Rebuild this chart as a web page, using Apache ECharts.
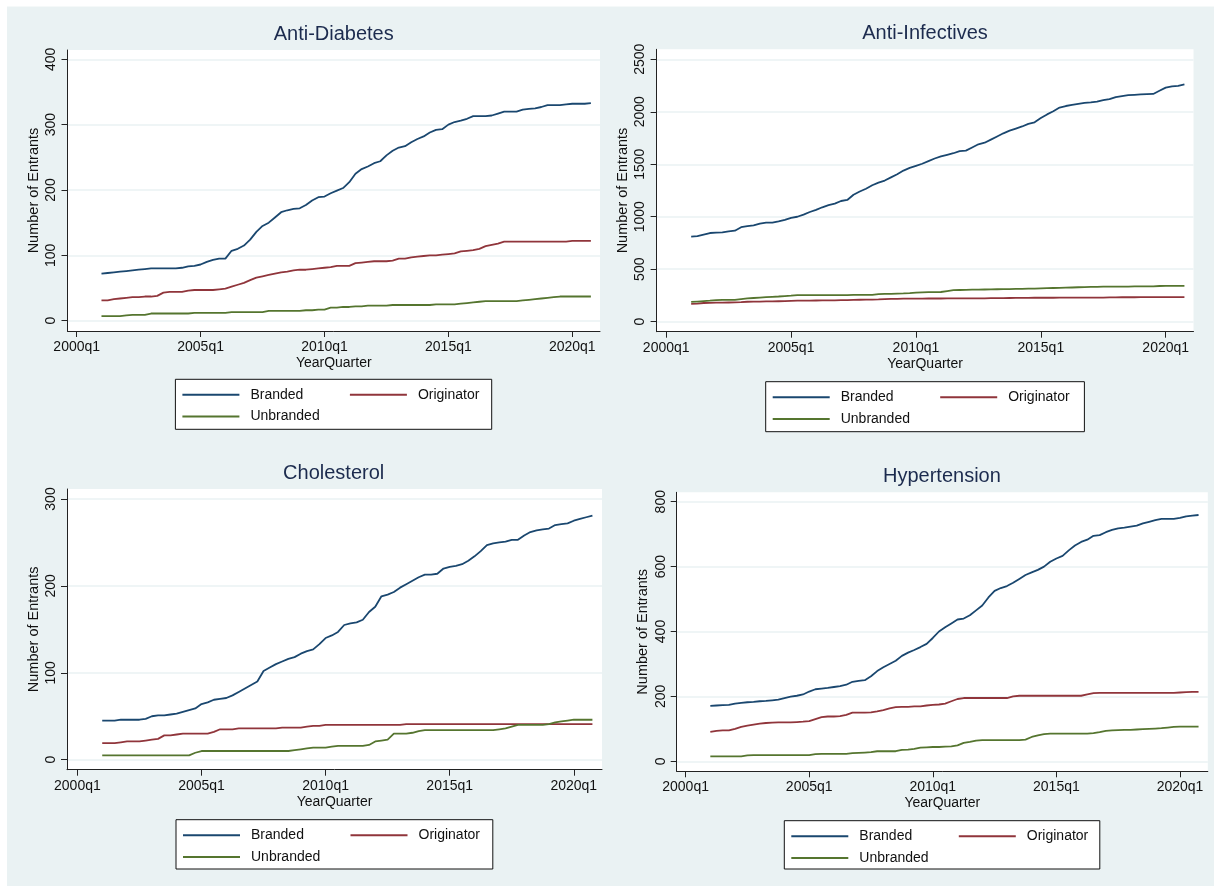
<!DOCTYPE html>
<html>
<head>
<meta charset="utf-8">
<title>Number of Entrants by therapeutic class</title>
<script src="https://cdn.jsdelivr.net/npm/echarts@6/dist/echarts.min.js"></script>
<style>
  html, body { margin: 0; padding: 0; background: #fff; }
  #main { width: 1214px; height: 886px; }
</style>
</head>
<body>
<div id="main"></div>
<script>
// ---- data ----
var panelTitles = ['Anti-Diabetes', 'Anti-Infectives', 'Cholesterol', 'Hypertension'];
var seriesNames = ['Branded', 'Originator', 'Unbranded'];
var xTickValues = [0, 20, 40, 60, 80];            // quarters since 2000q1
var firstQuarter = 4;                              // series start at 2001q1
var yTickValues = [
  [0, 100, 200, 300, 400],
  [0, 500, 1000, 1500, 2000, 2500],
  [0, 100, 200, 300],
  [0, 200, 400, 600, 800]
];

// Anti-Diabetes
var adBranded = [72,73,74,75,76,77,78,79,80,80, 80,80,80,81,83,84,86,90,93,95,
  95,107,110,115,124,136,145,150,158,166, 169,171,172,177,184,189,190,195,199,203,
  212,225,232,236,241,244,253,260,265,267, 273,278,282,288,292,293,300,304,306,309,
  313,313,313,314,317,320,320,320,323,324, 325,327,330,330,330,331,332,332,332,333];
var adOriginator = [31,31,33,34,35,36,36,37,37,38, 43,44,44,44,46,47,47,47,47,48,
  49,52,55,58,62,66,68,70,72,74, 75,77,78,78,79,80,81,82,84,84,
  84,88,89,90,91,91,91,92,95,95, 97,98,99,100,100,101,102,103,106,107,
  108,110,114,116,118,121,121,121,121,121, 121,121,121,121,121,121,122,122,122,122];
var adUnbranded = [7,7,7,7,8,9,9,9,11,11, 11,11,11,11,11,12,12,12,12,12,
  12,13,13,13,13,13,13,15,15,15, 15,15,15,16,16,17,17,20,20,21,
  21,22,22,23,23,23,23,24,24,24, 24,24,24,24,25,25,25,25,26,27,
  28,29,30,30,30,30,30,30,31,32, 33,34,35,36,37,37,37,37,37,37];

// Anti-Infectives
var aiBranded = [810,815,830,845,848,851,860,867,900,910, 918,935,943,943,955,970,990,1000,1020,1045,
  1065,1090,1110,1125,1150,1160,1210,1240,1267,1300, 1325,1345,1375,1405,1440,1465,1485,1505,1530,1555,
  1575,1590,1605,1625,1630,1660,1690,1705,1735,1765, 1795,1820,1840,1860,1885,1900,1940,1975,2005,2040,
  2055,2065,2075,2085,2090,2097,2110,2120,2140,2150, 2158,2162,2166,2168,2170,2200,2230,2242,2246,2260];
var aiOriginator = [170,172,178,180,181,182,183,184,186,190, 191,192,193,194,195,196,198,200,200,201,
  202,203,204,204,205,206,208,209,210,211, 212,216,218,218,219,219,220,220,221,221,
  221,222,222,222,222,223,223,223,224,224, 224,226,227,227,227,228,228,228,228,229,
  229,229,229,229,230,230,230,231,231,233, 233,233,234,234,234,234,235,235,235,235];
var aiUnbranded = [188,192,196,200,205,207,207,208,215,222, 226,230,234,237,240,244,248,253,254,254,
  254,254,254,254,254,254,255,255,255,256, 262,265,266,268,270,273,277,279,281,282,
  283,292,300,302,303,305,306,307,308,309, 310,311,312,313,315,316,318,320,321,322,
  324,326,328,330,331,332,334,334,335,335, 335,336,336,336,336,340,342,342,342,342];

// Cholesterol
var chBranded = [45,45,45,46,46,46,46,47,50,51, 51,52,53,55,57,59,64,66,69,70,
  71,74,78,82,86,90,102,106,110,113, 116,118,122,125,127,133,140,143,147,155,
  157,158,161,170,176,188,190,193,198,202, 206,210,213,213,214,220,222,223,225,229,
  234,240,247,249,250,251,253,253,258,262, 264,265,266,270,271,272,275,277,279,281];
var chOriginator = [19,19,19,20,21,21,21,22,23,24, 28,28,29,30,30,30,30,30,32,35,
  35,35,36,36,36,36,36,36,36,37, 37,37,37,38,39,39,40,40,40,40,
  40,40,40,40,40,40,40,40,40,41, 41,41,41,41,41,41,41,41,41,41,
  41,41,41,41,41,41,41,41,41,41, 41,41,41,41,41,41,41,41,41,41];
var chUnbranded = [5,5,5,5,5,5,5,5,5,5, 5,5,5,5,5,8,10,10,10,10,
  10,10,10,10,10,10,10,10,10,10, 10,11,12,13,14,14,14,15,16,16,
  16,16,16,17,21,22,23,30,30,30, 31,33,34,34,34,34,34,34,34,34,
  34,34,34,34,35,36,38,40,40,40, 40,40,41,43,44,45,46,46,46,46];

// Hypertension
var htBranded = [171,172,173,174,178,180,182,183,185,186, 188,190,195,199,202,206,215,222,224,226,
  229,232,236,245,248,250,262,278,290,300, 310,325,335,343,352,362,380,400,413,425,
  437,440,450,465,480,505,525,534,540,550, 562,574,582,590,600,615,625,633,650,665,
  676,683,695,697,706,713,718,720,723,726, 733,738,743,747,747,747,750,755,757,759];
var htOriginator = [91,94,95,95,100,106,110,113,116,118, 119,120,120,120,121,122,124,130,136,138,
  138,139,143,150,150,150,151,154,158,163, 167,168,168,169,169,172,174,175,178,185,
  192,195,195,195,195,195,195,195,195,200, 202,202,202,202,202,202,202,202,202,202,
  202,206,210,211,211,211,211,211,211,211, 211,211,211,211,211,211,212,213,214,214];
var htUnbranded = [15,15,15,15,15,15,18,19,19,19, 19,19,19,19,19,19,19,22,23,23,
  23,23,23,25,26,27,28,31,31,31, 31,35,36,38,42,43,44,44,45,46,
  49,57,60,64,65,65,65,65,65,65, 65,67,75,80,84,85,85,85,85,85,
  85,85,87,90,94,95,96,97,97,98, 99,100,101,102,104,106,107,107,107,107];

var panelData = [
  [adBranded, adOriginator, adUnbranded],
  [aiBranded, aiOriginator, aiUnbranded],
  [chBranded, chOriginator, chUnbranded],
  [htBranded, htOriginator, htUnbranded]
];

// ---- layout / style ----
var FONT = 'Liberation Sans, Arial, sans-serif';
var BG = '#eaf2f3';
var colors = ['#1a476f', '#90353b', '#55752f'];
var titleColor = '#1c2b4e';

// plot box (px), pixel of x=2000q1 / 2020q1, pixel of y=0 / top tick
var layout = [
  {l: 67.5, t: 50, r: 600, b: 331, x0: 76.7, x80: 572.3, y0: 320.7, yTop: 59.3, cx: 333.7, tt: 24, lg: {x: 175.4, y: 379.3, w: 316.3, h: 50}},
  {l: 656.6, t: 49.3, r: 1193.5, b: 331.7, x0: 666.2, x80: 1165.7, y0: 321.7, yTop: 59.3, cx: 925, tt: 23.4, lg: {x: 765.7, y: 381.7, w: 318.7, h: 50}},
  {l: 67, t: 489, r: 602, b: 769.7, x0: 77.4, x80: 573.8, y0: 759.7, yTop: 499, cx: 333.7, tt: 463.7, lg: {x: 176, y: 819.7, w: 316.8, h: 49.3}},
  {l: 676.7, t: 492.3, r: 1207.8, b: 771.3, x0: 685.6, x80: 1180, y0: 761.3, yTop: 501.7, cx: 941.9, tt: 466.4, lg: {x: 784.3, y: 820.7, w: 315.5, h: 48.3}}
];

function qLabel(v) { return (2000 + v / 4) + 'q1'; }
function plainNum(v) { return String(v); }

var option = {
  backgroundColor: BG,
  animation: false,
  title: [], grid: [], xAxis: [], yAxis: [], series: [], legend: [],
  graphic: [
    {type: 'rect', shape: {x: 0, y: 0, width: 7, height: 886}, style: {fill: '#fff'}, silent: true},
    {type: 'rect', shape: {x: 0, y: 0, width: 1214, height: 6.5}, style: {fill: '#fff'}, silent: true}
  ]
};

layout.forEach(function (L, p) {
  var ticks = yTickValues[p];
  var yMaxTick = ticks[ticks.length - 1];
  var ppu = (L.y0 - L.yTop) / yMaxTick;
  var ppq = (L.x80 - L.x0) / 80;

  option.title.push({
    text: panelTitles[p], left: L.cx, top: L.tt, textAlign: 'center', padding: 0,
    textStyle: {fontFamily: FONT, fontSize: 20, fontWeight: 'normal', color: titleColor}
  });

  option.grid.push({
    left: L.l, top: L.t, width: L.r - L.l, height: L.b - L.t,
    show: true, backgroundColor: '#fff', borderWidth: 0, containLabel: false, outerBoundsMode: 'none'
  });

  option.xAxis.push({
    gridIndex: p, type: 'value',
    min: -(L.x0 - L.l) / ppq, max: (L.r - L.x0) / ppq,
    name: 'YearQuarter', nameLocation: 'middle', nameGap: 25,
    nameTextStyle: {fontFamily: FONT, fontSize: 14, color: '#111'},
    axisLine: {onZero: false, lineStyle: {color: '#222', width: 1}},
    axisTick: {customValues: xTickValues, length: 6, lineStyle: {color: '#222', width: 1}},
    axisLabel: {customValues: xTickValues, formatter: qLabel, margin: 9,
      fontFamily: FONT, fontSize: 14, color: '#111'},
    splitLine: {show: false}
  });

  option.yAxis.push({
    gridIndex: p, type: 'value',
    min: -(L.b - L.y0) / ppu, max: (L.y0 - L.t) / ppu,
    name: 'Number of Entrants', nameLocation: 'middle', nameGap: 26, nameRotate: 90,
    nameTextStyle: {fontFamily: FONT, fontSize: 14.5, color: '#111'},
    axisLine: {show: true, onZero: false, lineStyle: {color: '#222', width: 1}},
    axisTick: {show: true, customValues: ticks, length: 6, lineStyle: {color: '#222', width: 1}},
    axisLabel: {customValues: ticks, formatter: plainNum, rotate: 90, margin: 9,
      fontFamily: FONT, fontSize: 14, color: '#111'},
    splitLine: {show: true, lineStyle: {color: BG, width: 1.6}}
  });

  panelData[p].forEach(function (vals, s) {
    option.series.push({
      name: seriesNames[s], type: 'line', xAxisIndex: p, yAxisIndex: p,
      symbol: 'none', showSymbol: false, silent: true,
      lineStyle: {color: colors[s], width: 1.8},
      itemStyle: {color: colors[s]},
      data: vals.map(function (v, k) { return [firstQuarter + k, v]; })
    });
  });

  // legend box
  var g = L.lg;
  option.graphic.push({
    type: 'rect', shape: {x: g.x, y: g.y, width: g.w, height: g.h},
    style: {fill: '#fff', stroke: '#111', lineWidth: 1}, silent: true, z: 0
  });
  var itemPos = [[g.x + 7, g.y + 15.5], [g.x + 174.5, g.y + 15.5], [g.x + 7, g.y + 37.3]];
  seriesNames.forEach(function (nm, s) {
    option.legend.push({
      data: [nm], left: itemPos[s][0], top: itemPos[s][1] - 8, padding: 0,
      icon: 'rect', itemWidth: 57, itemHeight: 2, selectedMode: false, z: 10,
      textStyle: {fontFamily: FONT, fontSize: 14, color: '#111', lineHeight: 16, padding: [0, 0, 0, 6]}
    });
  });
});

var chart = echarts.init(document.getElementById('main'));
chart.setOption(option);
</script>
</body>
</html>
